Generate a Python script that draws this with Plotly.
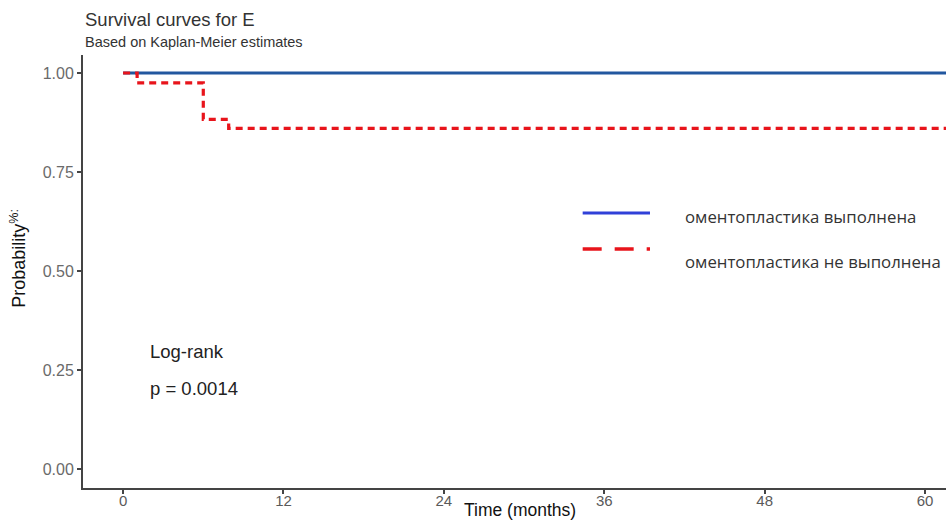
import plotly.graph_objects as go

# Kaplan-Meier step data (months, survival probability)
time_done = [0, 62]
surv_done = [1.0, 1.0]

time_not = [0, 1.05, 1.05, 6.0, 6.0, 7.9, 7.9, 62]
surv_not = [1.0, 1.0, 0.975, 0.975, 0.883, 0.883, 0.86, 0.86]

x_ticks = [0, 12, 24, 36, 48, 60]
y_ticks = [0.0, 0.25, 0.5, 0.75, 1.0]
y_tick_labels = ["0.00", "0.25", "0.50", "0.75", "1.00"]

legend_labels = ["оментопластика выполнена", "оментопластика не выполнена"]

fig = go.Figure()
fig.add_trace(go.Scatter(x=time_done, y=surv_done, mode="lines",
                         line=dict(color="#22579f", width=3), showlegend=False))
fig.add_trace(go.Scatter(x=time_not, y=surv_not, mode="lines",
                         line=dict(color="#e8141b", width=3.2, dash="7px,5px"),
                         showlegend=False))

font_main = "Liberation Sans, Arial, sans-serif"
fig.update_layout(
    width=946, height=522,
    margin=dict(l=83, r=0, t=55, b=34),
    plot_bgcolor="white", paper_bgcolor="white",
    font=dict(family=font_main, color="#333"),
    xaxis=dict(range=[-3.0, 61.57], tickvals=x_ticks, showgrid=False, zeroline=False,
               showline=True, linecolor="#444", linewidth=2, ticks="outside",
               ticklen=4, tickwidth=2, tickcolor="#444", ticklabelstandoff=-6,
               tickfont=dict(size=15, color="#5a5a5a", family=font_main)),
    yaxis=dict(range=[-0.048, 1.0455], tickvals=y_ticks, ticktext=y_tick_labels,
               showgrid=False, zeroline=False, showline=True, linecolor="#444",
               linewidth=2, ticks="outside", ticklen=4, tickwidth=2, tickcolor="#444",
               tickfont=dict(size=16, color="#6a6a6a", family=font_main)),
)

ann = []
ann.append(dict(text="Survival curves for E", x=0, y=1.081, xref="paper", yref="paper",
                xanchor="left", yanchor="middle", showarrow=False,
                font=dict(size=18.5, color="#333")))
ann.append(dict(text="Based on Kaplan-Meier estimates", x=0, y=1.030, xref="paper",
                yref="paper", xanchor="left", yanchor="middle", showarrow=False,
                font=dict(size=14.5, color="#333")))
ann.append(dict(text="Probability<sup>%:</sup>", x=-0.075, y=0.53, xref="paper",
                yref="paper", xanchor="center", yanchor="middle", textangle=-90,
                showarrow=False, font=dict(size=18, color="#111")))
ann.append(dict(text="Time (months)", x=0.506, y=-0.0785, xref="paper", yref="paper",
                xanchor="center", yanchor="bottom", showarrow=False,
                font=dict(size=17.5, color="#111")))
ann.append(dict(text="Log-rank", x=0.0753, y=0.316, xref="paper", yref="paper",
                xanchor="left", yanchor="middle", showarrow=False,
                font=dict(size=18.5, color="#222")))
ann.append(dict(text="p = 0.0014", x=0.0753, y=0.229, xref="paper", yref="paper",
                xanchor="left", yanchor="middle", showarrow=False,
                font=dict(size=18.5, color="#222")))
legend_font = "Open Sans, Noto Sans, sans-serif"
ann.append(dict(text=legend_labels[0], x=0.695, y=0.626, xref="paper", yref="paper",
                xanchor="left", yanchor="middle", showarrow=False,
                font=dict(size=16.8, color="#333", family=legend_font)))
ann.append(dict(text=legend_labels[1], x=0.695, y=0.524, xref="paper", yref="paper",
                xanchor="left", yanchor="middle", showarrow=False,
                font=dict(size=16.8, color="#333", family=legend_font)))
fig.update_layout(annotations=ann)

fig.add_shape(type="line", xref="paper", yref="paper", x0=0.579, x1=0.657, y0=0.635, y1=0.635,
              line=dict(color="#3040d8", width=3))
fig.add_shape(type="line", xref="paper", yref="paper", x0=0.579, x1=0.657, y0=0.552, y1=0.552,
              line=dict(color="#e8141b", width=3.5, dash="19px,13px"))

fig.write_html("out.html", config={"displayModeBar": False},
               post_script="document.body.style.margin='0';")
